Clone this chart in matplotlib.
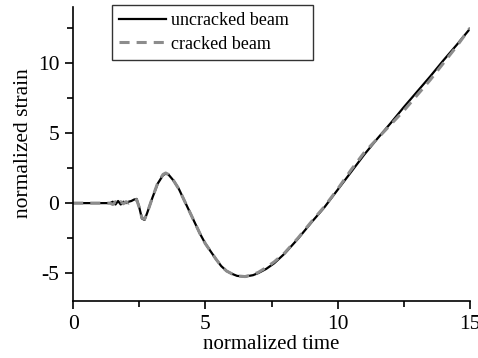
import matplotlib.pyplot as plt

plt.rcParams["font.family"] = ["Liberation Serif", "DejaVu Serif"]

# normalized time / strain
time_uncracked = [0.0, 1.4, 1.5, 1.6, 1.7, 1.8, 1.9, 2.0, 2.1, 2.2, 2.3, 2.4,
                  2.5, 2.6, 2.7, 2.8, 3.0, 3.2, 3.4, 3.5, 3.6, 3.8, 4.0, 4.2,
                  4.4, 4.6, 4.8, 5.0, 5.2, 5.4, 5.6, 5.8, 6.0, 6.2, 6.5, 6.8,
                  7.0, 7.3, 7.6, 8.0, 8.5, 9.0, 9.5, 10.0, 10.5, 11.0, 11.5,
                  12.0, 12.5, 13.0, 13.5, 14.0, 14.5, 15.0]
strain_uncracked = [0.0, 0.0, 0.1, -0.1, 0.15, -0.1, 0.1, 0.0, 0.1, 0.15, 0.25, 0.3,
                    -0.3, -1.1, -1.2, -0.7, 0.4, 1.4, 2.0, 2.1, 2.05, 1.6, 1.0, 0.2,
                    -0.6, -1.4, -2.2, -2.9, -3.45, -4.0, -4.5, -4.85, -5.05, -5.2, -5.25, -5.15,
                    -5.0, -4.7, -4.3, -3.6, -2.55, -1.4, -0.3, 0.95, 2.2, 3.45, 4.6,
                    5.7, 6.85, 7.95, 9.05, 10.2, 11.3, 12.45]

time_cracked = [0.0, 1.4, 1.5, 1.6, 1.7, 1.8, 1.9, 2.0, 2.1, 2.2, 2.3, 2.4,
                2.5, 2.6, 2.7, 2.8, 3.0, 3.2, 3.4, 3.5, 3.6, 3.8, 4.0, 4.2,
                4.4, 4.6, 4.8, 5.0, 5.2, 5.4, 5.6, 5.8, 6.0, 6.2, 6.5, 6.8,
                7.0, 7.3, 7.6, 8.0, 8.5, 9.0, 9.5, 10.0, 10.5, 11.0, 11.5,
                12.0, 12.5, 13.0, 13.5, 14.0, 14.5, 15.0]
strain_cracked = [0.0, 0.0, -0.1, 0.1, -0.1, 0.1, -0.05, 0.1, 0.0, 0.1, 0.2, 0.25,
                  -0.3, -1.05, -1.15, -0.7, 0.4, 1.45, 2.05, 2.15, 2.05, 1.6, 1.0, 0.2,
                  -0.6, -1.4, -2.2, -2.9, -3.45, -4.0, -4.5, -4.85, -5.05, -5.2, -5.25, -5.1,
                  -4.95, -4.6, -4.2, -3.55, -2.5, -1.35, -0.25, 1.0, 2.35, 3.6, 4.6,
                  5.6, 6.6, 7.7, 8.8, 10.0, 11.2, 12.5]

fig, ax = plt.subplots(figsize=(4.78, 3.58), dpi=100)
fig.subplots_adjust(left=0.153, right=0.983, bottom=0.159, top=0.98)

ax.plot(time_uncracked, strain_uncracked, color="black", lw=1.6, label="uncracked beam")
ax.plot(time_cracked, strain_cracked, color="#8c8c8c", lw=2.2, ls=(0, (3.3, 2.3)),
        label="cracked beam")

ax.set_xlim(0, 15)
ax.set_ylim(-7, 14)
ax.set_xticks([0, 5, 10, 15])
ax.set_xticks([2.5, 7.5, 12.5], minor=True)
ax.set_yticks([-5, 0, 5, 10])
ax.set_yticklabels(["-5", "0", "5", "10"])
ax.set_yticks([-2.5, 2.5, 7.5, 12.5], minor=True)
ax.spines["top"].set_visible(False)
ax.spines["right"].set_visible(False)
for s in ["left", "bottom"]:
    ax.spines[s].set_linewidth(1.2)
ax.tick_params(which="major", length=6, width=1.2, labelsize=15.5, pad=4)
ax.tick_params(which="minor", length=4, width=1.2)

ax.set_xlabel("normalized time", fontsize=15, labelpad=1)
ax.set_ylabel("normalized strain", fontsize=15.5)
ax.yaxis.set_label_coords(-0.1, 0.536)

leg = ax.legend(loc="upper left", bbox_to_anchor=(0.098, 0.0, 0.506, 1.007),
                mode="expand", borderaxespad=0,
                fontsize=13, frameon=True, fancybox=False, handlelength=2.6,
                handletextpad=0.25, borderpad=0.4, labelspacing=0.35)
leg.get_frame().set_edgecolor("black")
leg.get_frame().set_linewidth(1.0)

plt.savefig("out.png", dpi=100)
